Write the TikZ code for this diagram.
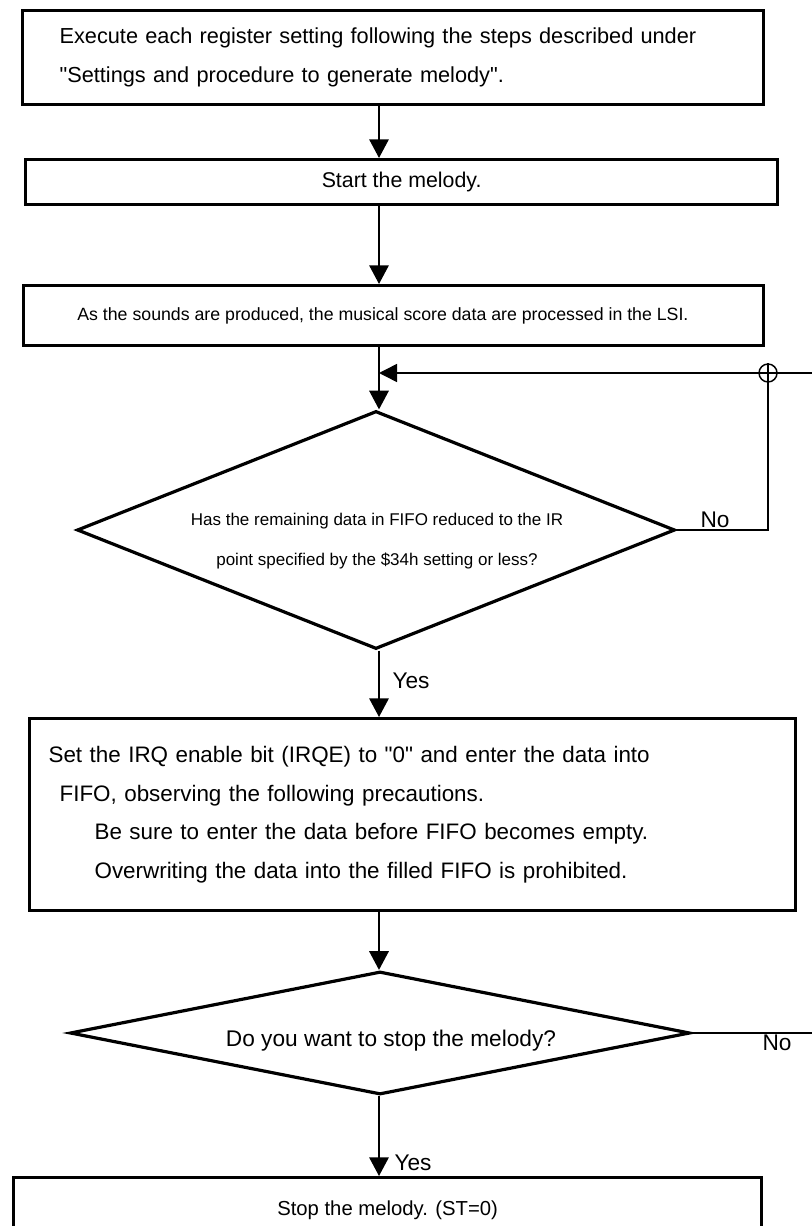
\documentclass[tikz,border=0pt]{standalone}
\usepackage{fontspec}
\setmainfont{Liberation Sans}[Ligatures=TeXOff]
\usetikzlibrary{shapes.geometric,arrows.meta}
\tikzset{every picture/.style={line width=0.75pt}}
\newcommand{\dq}{\symbol{34}}

\begin{document}
\begin{tikzpicture}[x=0.75pt,y=0.75pt,yscale=-1,xscale=1,
	procbox/.style={draw, line width=2.4pt, rectangle, anchor=north west, inner ysep=0pt},
	decision/.style={draw, line width=2.4pt, diamond, inner sep=0pt},
	flow/.style={line width=1.5pt, -{Triangle[length=14pt,width=14.5pt]}},
	thinflow/.style={line width=1.1pt, -{Triangle[length=13.5pt,width=13.5pt]}},
	answer/.style={font=\fontsize{17}{20}\selectfont, inner sep=0pt}]
	%set diagram size 812 x 1226
	\useasboundingbox (0,0) rectangle (812,1226);
	\coordinate (col) at (379,0);

	\node[procbox, minimum width=741*0.75pt, minimum height=94*0.75pt, inner xsep=37*0.75pt, text width=667*0.75pt, align=left, font=\fontsize{16.3}{29.5}\selectfont] (box1) at (21,9) {Execute each register setting following the steps described under\\\dq Settings and procedure to generate melody\dq.};
	\node[procbox, minimum width=752*0.75pt, minimum height=45*0.75pt, font=\fontsize{16}{19}\selectfont] (box2) at (24,158) {Start the melody.};
	\node[procbox, minimum width=740*0.75pt, minimum height=60*0.75pt, font=\fontsize{13.3}{15}\selectfont] (box3) at (22,284) {\hspace*{-16pt}\raisebox{-4.5pt}{As the sounds are produced, the musical score data are processed in the LSI.}};

	\node[decision, minimum width=598*0.75pt, minimum height=238*0.75pt] (q1) at (376,530) {};
	\node[align=center, font=\fontsize{12.75}{30}\selectfont] (q1txt) at (377,541) {Has the remaining data in FIFO reduced to the IR\\point specified by the \$34h setting or less?};

	\node[procbox, minimum width=766*0.75pt, minimum height=192*0.75pt, inner xsep=19*0.75pt, text width=728*0.75pt, align=left, font=\fontsize{16.8}{29}\selectfont] (box4) at (28,717) {Set the IRQ enable bit (IRQE) to \dq 0\dq{} and enter the data into\\\hspace*{8.25pt}FIFO, observing the following precautions.\\\hspace*{34.5pt}Be sure to enter the data before FIFO becomes empty.\\\hspace*{34.5pt}Overwriting the data into the filled FIFO is prohibited.};

	\node[decision, minimum width=620*0.75pt, minimum height=123*0.75pt] (q2) at (380,1033) {};
	\node[font=\fontsize{17}{20}\selectfont] (q2txt) at (391,1041) {Do you want to stop the melody?};

	\node[procbox, minimum width=748*0.75pt, minimum height=90*0.75pt, font=\fontsize{15.2}{20}\selectfont] (box5) at (12,1176) {\raisebox{22pt}{Stop the melody. (ST=0)}};

	% main column
	\draw[flow] (box1.south -| col) -- (box2.north -| col);
	\draw[flow] (box2.south -| col) -- (box3.north -| col);
	\draw[flow] (box3.south -| col) -- (q1.north -| col);
	\draw[flow] (q1.south -| col) -- (box4.north -| col);
	\draw[flow] (box4.south -| col) -- (q2.north -| col);
	\draw[flow] (q2.south -| col) -- (box5.north -| col);

	% loop back
	\node[draw, circle, line width=1.1pt, minimum size=18*0.75pt, inner sep=0pt] (jn) at (768,373) {};
	\coordinate (edgeA) at (812,373);
	\coordinate (edgeB) at (812,1033);
	\draw[line width=1.1pt] (q1.east) -- (jn |- q1.east) -- (jn.north);
	\draw[thinflow] (edgeA) -- (col |- jn);
	\draw[line width=1.1pt] (q2.east) -- (edgeB);

	\node[answer, anchor=south west] (no1) at (700,528) {No};
	\node[answer, anchor=north west] (no2) at (762,1034) {No};
	\node[answer, anchor=west] (yes1) at (392,681) {Yes};
	\node[answer, anchor=west] (yes2) at (394,1163) {Yes};
\end{tikzpicture}
\end{document}
